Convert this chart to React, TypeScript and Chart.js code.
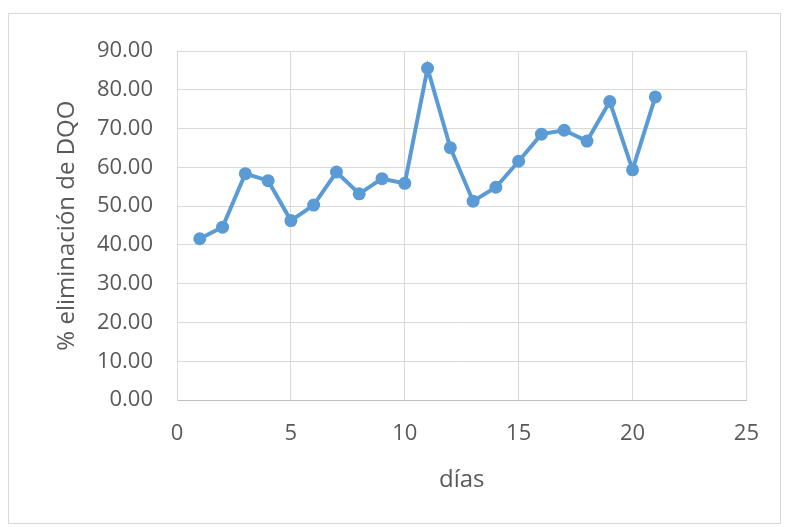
import React, { useEffect, useRef } from "react";
import { Chart, registerables } from "chart.js";

Chart.register(...registerables);

const days = [1, 2, 3, 4, 5, 6, 7, 8, 9, 10, 11, 12, 13, 14, 15, 16, 17, 18, 19, 20, 21];
const removal = [41.6, 44.6, 58.4, 56.6, 46.3, 50.3, 58.8, 53.2, 57.1, 55.9, 85.6, 65.1, 51.3, 54.9, 61.6, 68.6, 69.6, 66.8, 77.0, 59.4, 78.2];
const xTitle = "días";
const yTitle = "% eliminación de DQO";

const FONT = "'Open Sans', 'Noto Sans', sans-serif";
const TEXT = "#595959";

export default function App() {
  const ref = useRef<HTMLCanvasElement>(null);
  useEffect(() => {
    if (!ref.current) return;
    const chart = new Chart(ref.current, {
      type: "line",
      data: {
        datasets: [
          {
            data: days.map((d, i) => ({ x: d, y: removal[i] })),
            borderColor: "#5b9bd5",
            backgroundColor: "#5b9bd5",
            borderWidth: 4,
            pointRadius: 6.5,
            pointBorderWidth: 0,
            pointBackgroundColor: "#5b9bd5",
            tension: 0,
          },
        ],
      },
      options: {
        responsive: false,
        animation: false,
        layout: { padding: { left: 43.6, top: 31, right: 28, bottom: 28.6 } },
        plugins: { legend: { display: false }, tooltip: { enabled: false } },
        scales: {
          x: {
            type: "linear",
            min: 0,
            max: 25,
            ticks: { stepSize: 5, color: TEXT, padding: 21, font: { family: FONT, size: 22 } },
            grid: { color: "#d9d9d9", lineWidth: 1, drawTicks: false },
            border: { color: "#bfbfbf", width: 1 },
            title: { display: true, text: xTitle, color: TEXT, padding: 0, font: { family: FONT, size: 24, lineHeight: 1.2 } },
            afterFit: (s: any) => { s.height = 94.4; },
          },
          y: {
            min: 0,
            max: 90,
            ticks: {
              stepSize: 10,
              color: TEXT,
              padding: 24,
              font: { family: FONT, size: 22 },
              callback: (v: any) => Number(v).toFixed(2),
            },
            grid: { color: "#d9d9d9", lineWidth: 1, drawTicks: false },
            border: { color: "#d9d9d9", width: 1 },
            title: { display: true, text: yTitle, color: TEXT, padding: 0, font: { family: FONT, size: 24, lineHeight: 1.2 } },
            afterFit: (s: any) => { s.width = 124.4; },
          },
        },
      },
    });
    return () => chart.destroy();
  }, []);
  return (
    <div
      style={{
        position: "absolute",
        left: 8,
        top: 13,
        width: 771,
        height: 509,
        border: "1px solid #d9d9d9",
        background: "#fff",
      }}
    >
      <canvas ref={ref} width={771} height={509} style={{ display: "block" }} />
    </div>
  );
}
